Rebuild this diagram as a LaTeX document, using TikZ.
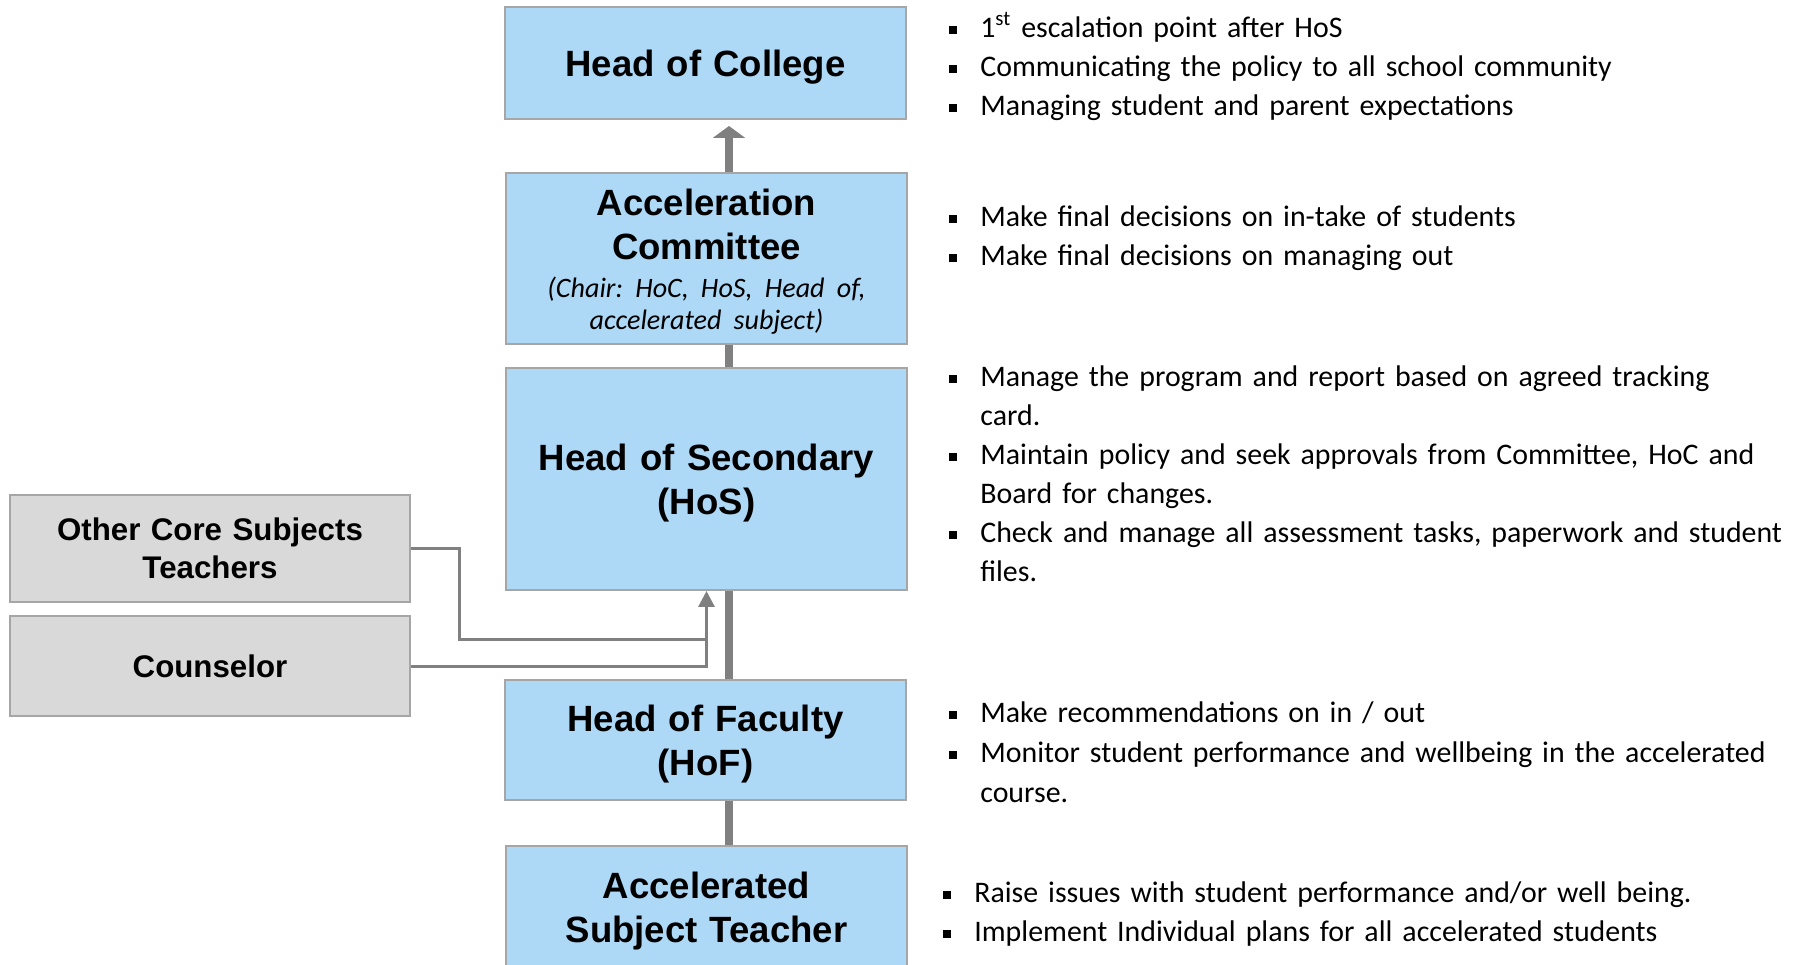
\documentclass[tikz,border=0pt]{standalone}
\usepackage{fontspec}
\setmainfont{Liberation Sans}
\newfontfamily\notefont{Carlito}
\usetikzlibrary{arrows.meta}

\definecolor{rolefill}{RGB}{173,216,246}
\definecolor{peerfill}{RGB}{217,217,217}
\definecolor{boxedge}{RGB}{166,166,166}
\definecolor{linkgray}{RGB}{128,128,128}

\newcommand\rolefont{\bfseries\fontsize{20.8}{25}\selectfont}
\newcommand\peerfont{\bfseries\fontsize{17.8}{21.6}\selectfont}
\newcommand\subfont{\notefont\mdseries\itshape\frenchspacing\fontsize{16}{18.4}\selectfont}
\newcommand\dutyfont{\notefont\fontsize{17}{22.2}\selectfont}
% one bulleted paragraph, wrapped lines hang under the text
\newcommand\duty[1]{\noindent\hangindent=0.62cm\hangafter=1%
  \makebox[0.62cm][l]{\raisebox{0.06cm}{\rule{0.16cm}{0.16cm}}}#1\par}

\tikzset{
  role/.style={draw=boxedge, line width=0.04cm, fill=rolefill,
    minimum width=8.02cm, text width=7.8cm, align=center,
    inner sep=0pt, font=\rolefont},
  sunk/.style={execute at begin node={\rule{0pt}{#1}}},
  sunk/.default=0.7cm,
  peer/.style={role, fill=peerfill, minimum width=8cm, font=\peerfont},
  duties/.style={anchor=base west, text width=18cm, align=left,
    inner sep=0pt, font=\dutyfont},
  trunk/.style={draw=linkgray, line width=0.16cm},
  feed/.style={draw=linkgray, line width=0.06cm}
}

\begin{document}
\begin{tikzpicture}[x=0.02cm, y=-0.02cm]
  \useasboundingbox (0,0) rectangle (1808,964);

  % chain of roles
  \node[role, sunk, minimum height=2.24cm] (hoc) at (705.5,63) {Head of College};
  \node[role, sunk=0.66cm, minimum height=3.42cm] (acc) at (706.5,258.5)
    {Acceleration\\Committee\par\vspace{3pt}
     {\subfont (Chair: HoC, HoS, Head of,\\accelerated subject)\par}};
  \node[role, sunk, minimum height=4.44cm] (hos) at (706.5,479) {Head of Secondary\\(HoS)};
  \node[role, sunk, minimum height=2.4cm] (hof) at (705.5,740) {Head of Faculty\\(HoF)};
  \node[role, sunk, minimum height=2.44cm] (ast) at (706.5,907) {Accelerated\\Subject Teacher};

  % side inputs
  \node[peer, minimum height=2.14cm] (oct) at (210,548.5) {Other Core Subjects\\Teachers};
  \node[peer, minimum height=2cm] (cns) at (210,666) {Counselor};

  \coordinate (trunkx) at (729,0);
  \coordinate (bend) at (459,0);
  \coordinate (lowfeed) at (0,639);
  \coordinate (merge) at (hos.south |- lowfeed);

  \draw[trunk, -{Triangle[width=0.64cm,length=0.24cm]}, shorten >=0.12cm]
    (acc.north -| trunkx) -- (hoc.south -| trunkx);
  \draw[trunk] (acc.south -| trunkx) -- (hos.north -| trunkx);
  \draw[trunk] (hos.south -| trunkx) -- (hof.north -| trunkx);
  \draw[trunk] (hof.south -| trunkx) -- (ast.north -| trunkx);

  \draw[feed] (oct.east) -- (oct.east -| bend) |- (merge);
  \draw[feed, -{Triangle[width=0.32cm,length=0.32cm]}] (cns.east) -| (hos.south);

  % duties beside each role
  \node[duties] (hocduty) at (949,37) {%
    \duty{1\textsuperscript{st} escalation point after HoS}%
    \duty{Communicating the policy to all school community}%
    \duty{Managing student and parent expectations}};
  \node[duties] (accduty) at (949,226) {%
    \duty{Make final decisions on in-take of students}%
    \duty{Make final decisions on managing out}};
  \node[duties] (hosduty) at (949,386) {%
    \duty{Manage the program and report based on agreed tracking\newline card.}%
    \duty{Maintain policy and seek approvals from Committee, HoC and\newline Board for changes.}%
    \duty{Check and manage all assessment tasks, paperwork and student\newline files.}};
  \node[duties, font=\notefont\fontsize{17}{22.8}\selectfont] (hofduty) at (949,722) {%
    \duty{Make recommendations on in / out}%
    \duty{Monitor student performance and wellbeing in the accelerated\newline course.}};
  \node[duties] (astduty) at (943,902) {%
    \duty{Raise issues with student performance and/or well being.}%
    \duty{Implement Individual plans for all accelerated students}};
\end{tikzpicture}
\end{document}
